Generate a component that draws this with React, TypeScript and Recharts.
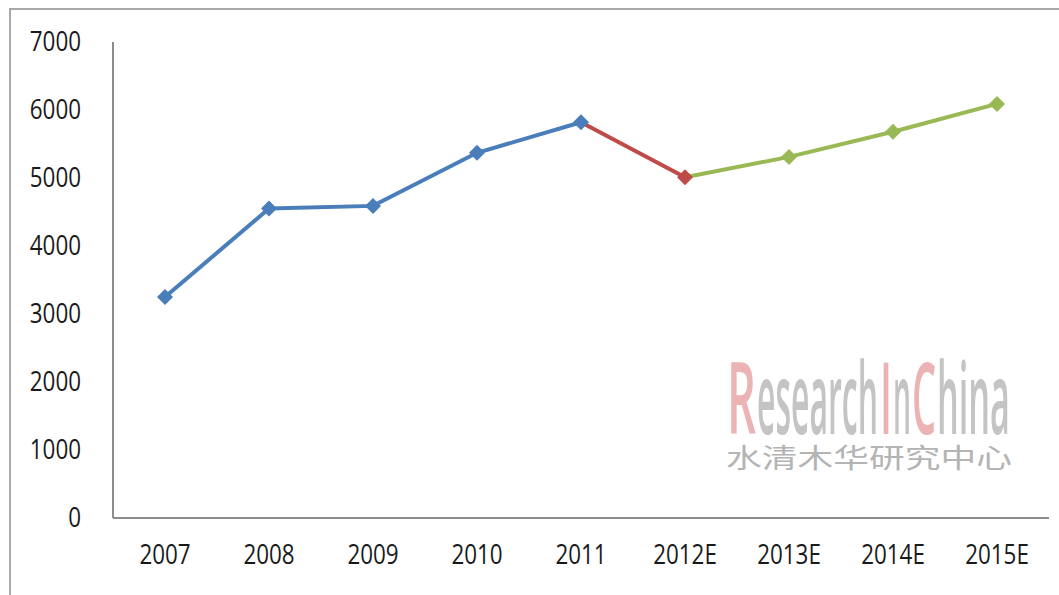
import React from 'react';
import { LineChart, Line, XAxis, YAxis } from 'recharts';

const years = ['2007', '2008', '2009', '2010', '2011', '2012E', '2013E', '2014E', '2015E'];
const values = [3250, 4550, 4590, 5370, 5820, 5010, 5310, 5680, 6090];
const yTicks = [0, 1000, 2000, 3000, 4000, 5000, 6000, 7000];
// index of last actual year and first estimate
const lastActual = 4;
const firstEstimate = 5;

const BLUE = '#4a7ebb';
const RED = '#be4b48';
const GREEN = '#98b954';

const data = years.map((year, i) => ({
  year,
  actual: i <= lastActual ? values[i] : null,
  bridge: i >= lastActual && i <= firstEstimate ? values[i] : null,
  estimate: i >= firstEstimate ? values[i] : null,
}));

const diamond = (color: string, skip: number[]) => (props: any) => {
  const { cx, cy, index } = props;
  if (cx == null || cy == null || skip.includes(index)) return <g key={`d-${index}`} />;
  const r = 8;
  return (
    <polygon
      key={`d-${index}`}
      points={`${cx},${cy - r} ${cx + r},${cy} ${cx},${cy + r} ${cx - r},${cy}`}
      fill={color}
      stroke="none"
    />
  );
};

// narrow tick text, the source uses a condensed face
const NarrowTick = (props: any) => {
  const { x, y, payload, textAnchor, axis } = props;
  const dy = axis === 'x' ? 20 : 9;
  return (
    <g transform={`translate(${x},${y + dy})`}>
      <text
        transform="scale(0.83,1)"
        textAnchor={textAnchor}
        fontFamily='"Open Sans", sans-serif'
        fontSize={27}
        fill="#1a1a1a"
      >
        {payload.value}
      </text>
    </g>
  );
};

// watermark pieces: text, left edge, width, rough width in em, colour
const PINK = '#ebb3b3';
const GREY = '#c4c4c4';
const markParts: [string, number, number, number, string][] = [
  ['R', 727, 29, 0.64, PINK],
  ['esearch', 757, 121, 3.7, GREY],
  ['I', 880, 12, 0.3, PINK],
  ['n', 893, 18, 0.63, GREY],
  ['C', 912, 24, 0.64, PINK],
  ['hina', 937, 73, 2.1, GREY],
];
const MARK_SIZE = 100;

export default function App() {
  return (
    <div style={{ position: 'absolute', left: 0, top: 0, width: 1059, height: 595, background: '#fff', overflow: 'hidden' }}>
      <div
        style={{
          position: 'absolute',
          left: 9,
          top: 8,
          width: 1100,
          height: 700,
          borderTop: '2px solid #a8a8a8',
          borderLeft: '2px solid #a8a8a8',
        }}
      />
      <LineChart
        width={1059}
        height={595}
        data={data}
        margin={{ top: 42, right: 10, bottom: 0, left: 0 }}
        style={{ position: 'absolute', left: 0, top: 0 }}
      >
        <XAxis
          dataKey="year"
          height={77}
          padding={{ left: 52, right: 52 }}
          axisLine={{ stroke: '#8c8c8c', strokeWidth: 2 }}
          tickLine={false}
          tickSize={0}
          tickMargin={26}
          tick={<NarrowTick axis="x" />}
          interval={0}
        />
        <YAxis
          width={113}
          domain={[0, 7000]}
          ticks={yTicks}
          axisLine={{ stroke: '#8c8c8c', strokeWidth: 2 }}
          tickLine={false}
          tickSize={0}
          tickMargin={32}
          tick={<NarrowTick axis="y" />}
        />
        <Line
          dataKey="estimate"
          stroke={GREEN}
          strokeWidth={4}
          dot={diamond(GREEN, [firstEstimate])}
          activeDot={false}
          isAnimationActive={false}
        />
        <Line
          dataKey="bridge"
          stroke={RED}
          strokeWidth={4}
          dot={diamond(RED, [lastActual])}
          activeDot={false}
          isAnimationActive={false}
        />
        <Line
          dataKey="actual"
          stroke={BLUE}
          strokeWidth={4}
          dot={diamond(BLUE, [])}
          activeDot={false}
          isAnimationActive={false}
        />
      </LineChart>
      <svg width={1059} height={595} style={{ position: 'absolute', left: 0, top: 0, pointerEvents: 'none' }}>
        {markParts.map(([t, x, w, em, c]) => {
          // set the font so its own width fits, then stretch it up to full height
          const fs = w / em;
          return (
            <text
              key={t}
              transform={`translate(${x},434) scale(1,${MARK_SIZE / fs})`}
              textLength={w}
              lengthAdjust="spacingAndGlyphs"
              fontFamily='"Open Sans", sans-serif'
              fontWeight={600}
              fontSize={fs}
              fill={c}
            >
              {t}
            </text>
          );
        })}
        <text
          x={726}
          y={468}
          textLength={286}
          lengthAdjust="spacingAndGlyphs"
          fontFamily='"Noto Sans CJK SC", sans-serif'
          fontSize={27}
          fill="#b4b4b4"
        >
          水清木华研究中心
        </text>
      </svg>
    </div>
  );
}
